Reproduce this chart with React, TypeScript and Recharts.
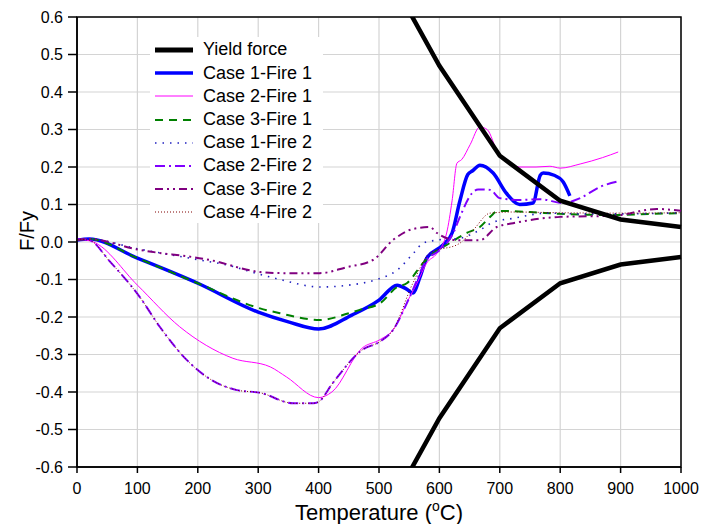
import { LineChart, Line, XAxis, YAxis, CartesianGrid, ReferenceArea } from "recharts";

const xTicks = [0, 100, 200, 300, 400, 500, 600, 700, 800, 900, 1000];
const yTicks = [-0.6, -0.5, -0.4, -0.3, -0.2, -0.1, 0, 0.1, 0.2, 0.3, 0.4, 0.5, 0.6];

// yield force envelope (upper / lower branch)
const yieldTemps = [550, 600, 700, 800, 900, 1000];
const yieldUpper = [0.615, 0.47, 0.23, 0.11, 0.06, 0.04];
const yieldLower = [-0.615, -0.47, -0.23, -0.11, -0.06, -0.04];

const c1f1Temps = [0, 20, 100, 200, 300, 350, 400, 455, 500, 530, 545, 556, 568, 579, 606, 621, 634, 647, 655, 667, 689, 711, 733, 755, 767, 772, 790, 805, 816];
const c1f1Vals = [0.005, 0.008, -0.043, -0.11, -0.187, -0.213, -0.232, -0.195, -0.155, -0.115, -0.125, -0.136, -0.093, -0.043, -0.008, 0.024, 0.11, 0.18, 0.19, 0.205, 0.184, 0.13, 0.1, 0.104, 0.178, 0.184, 0.178, 0.16, 0.123];

const c2f1Temps = [0, 27, 100, 170, 258, 320, 347, 400, 422, 472, 502, 523, 551, 563, 579, 596, 612, 621, 629, 637, 651, 667, 679, 697, 715, 733, 760, 783, 800, 833, 870, 896];
const c2f1Vals = [0.008, 0.0, -0.115, -0.226, -0.31, -0.333, -0.36, -0.415, -0.4, -0.283, -0.26, -0.235, -0.146, -0.11, -0.056, -0.03, 0.024, 0.11, 0.21, 0.22, 0.26, 0.307, 0.3, 0.237, 0.21, 0.2, 0.2, 0.202, 0.197, 0.208, 0.225, 0.24];

const c3f1Temps = [0, 20, 100, 200, 303, 336, 402, 450, 470, 502, 530, 546, 573, 590, 612, 645, 667, 684, 697, 750, 800, 887, 950, 1000];
const c3f1Vals = [0.005, 0.008, -0.043, -0.11, -0.177, -0.19, -0.208, -0.19, -0.18, -0.163, -0.12, -0.11, -0.056, -0.03, -0.008, 0.024, 0.04, 0.067, 0.083, 0.08, 0.075, 0.072, 0.075, 0.077];

const c1f2Temps = [0, 20, 100, 200, 250, 300, 336, 402, 450, 496, 530, 557, 573, 596, 634, 667, 689, 722, 778, 833, 900, 1000];
const c1f2Vals = [0.005, 0.008, -0.018, -0.047, -0.062, -0.085, -0.1, -0.12, -0.115, -0.1, -0.075, -0.03, -0.003, 0.005, 0.01, 0.032, 0.053, 0.063, 0.077, 0.075, 0.075, 0.078];

const c2f2Temps = [0, 20, 55, 104, 137, 182, 215, 265, 303, 358, 391, 400, 424, 472, 502, 523, 551, 579, 601, 623, 634, 654, 664, 684, 700, 733, 767, 805, 833, 866, 899];
const c2f2Vals = [0.008, 0.005, -0.053, -0.147, -0.226, -0.315, -0.36, -0.395, -0.402, -0.43, -0.43, -0.426, -0.375, -0.288, -0.265, -0.235, -0.146, -0.048, -0.021, 0.024, 0.067, 0.13, 0.14, 0.139, 0.117, 0.112, 0.114, 0.104, 0.117, 0.147, 0.163];

const c3f2Temps = [0, 20, 100, 220, 303, 336, 402, 447, 490, 523, 557, 584, 596, 629, 667, 695, 722, 800, 887, 960, 1000];
const c3f2Vals = [0.005, 0.008, -0.02, -0.048, -0.08, -0.083, -0.083, -0.067, -0.048, 0.005, 0.035, 0.04, 0.024, 0.005, 0.005, 0.04, 0.05, 0.067, 0.07, 0.088, 0.083];

const c4f2Temps = [0, 20, 55, 104, 137, 182, 215, 265, 303, 358, 391, 400, 424, 472, 502, 523, 556, 584, 634, 656, 684, 722, 800, 900, 1000];
const c4f2Vals = [0.008, 0.005, -0.053, -0.147, -0.226, -0.315, -0.36, -0.395, -0.402, -0.43, -0.43, -0.426, -0.375, -0.288, -0.265, -0.235, -0.11, -0.03, -0.003, 0.032, 0.077, 0.08, 0.078, 0.077, 0.078];

const toPoints = (temps: number[], vals: number[]) => temps.map((t, i) => ({ t, v: vals[i] }));

const FONT = "Arial, 'Liberation Sans', sans-serif";

const series = [
  { key: "c1f1", name: "Case 1-Fire 1", data: toPoints(c1f1Temps, c1f1Vals), color: "#0000FF", width: 3.5, dash: undefined },
  { key: "c2f1", name: "Case 2-Fire 1", data: toPoints(c2f1Temps, c2f1Vals), color: "#FF00FF", width: 1, dash: undefined },
  { key: "c3f1", name: "Case 3-Fire 1", data: toPoints(c3f1Temps, c3f1Vals), color: "#008000", width: 2, dash: "8 6" },
  { key: "c1f2", name: "Case 1-Fire 2", data: toPoints(c1f2Temps, c1f2Vals), color: "#2020C0", width: 1.6, dash: "1.5 6" },
  { key: "c2f2", name: "Case 2-Fire 2", data: toPoints(c2f2Temps, c2f2Vals), color: "#8000FF", width: 2, dash: "10 4 2 4" },
  { key: "c3f2", name: "Case 3-Fire 2", data: toPoints(c3f2Temps, c3f2Vals), color: "#800080", width: 2, dash: "8 4 2 4 2 4" },
  { key: "c4f2", name: "Case 4-Fire 2", data: toPoints(c4f2Temps, c4f2Vals), color: "#800000", width: 1, dash: "1 2" },
];

const legendItems = [
  { name: "Yield force", color: "#000", width: 5, dash: undefined as string | undefined },
  ...series.map((s) => ({ name: s.name, color: s.color, width: s.width, dash: s.dash })),
];

function ChartLegend() {
  return (
    <div
      style={{
        position: "absolute",
        left: 150,
        top: 37,
        width: 173,
        height: 186,
        background: "#fff",
        paddingTop: 1.4,
        boxSizing: "border-box",
      }}
    >
      {legendItems.map((it) => (
        <div key={it.name} style={{ display: "flex", alignItems: "center", height: 23.2 }}>
          <svg width={48} height={10} style={{ marginLeft: 5, flex: "none" }}>
            <line x1={0} y1={5} x2={38} y2={5} stroke={it.color} strokeWidth={it.width} strokeDasharray={it.dash} />
          </svg>
          <span style={{ fontFamily: FONT, fontSize: 18, color: "#000", whiteSpace: "nowrap" }}>{it.name}</span>
        </div>
      ))}
    </div>
  );
}

export default function App() {
  return (
    <div style={{ position: "absolute", left: 0, top: 0, width: 702, height: 524, background: "#fff" }}>
      <LineChart width={702} height={524} margin={{ top: 17, right: 21, left: 0, bottom: 0 }}>
        <CartesianGrid stroke="#d4d4d4" strokeWidth={1.2} />
        <XAxis
          type="number"
          dataKey="t"
          domain={[0, 1000]}
          ticks={xTicks}
          height={57}
          tickSize={6}
          tickMargin={10}
          stroke="#000"
          strokeWidth={1.5}
          tick={{ fontSize: 16, fill: "#000", fontFamily: FONT }}
          label={{
            content: ({ viewBox }: any) => (
              <text x={viewBox.x + viewBox.width / 2} y={viewBox.y + 53} textAnchor="middle" fontSize={22} fontFamily={FONT} fill="#000">
                Temperature (<tspan fontSize={14} dy={-9}>o</tspan><tspan dy={9}>C)</tspan>
              </text>
            ),
          }}
        />
        <YAxis
          type="number"
          domain={[-0.6, 0.6]}
          ticks={yTicks}
          allowDataOverflow
          width={77}
          tickSize={9}
          tickMargin={5}
          stroke="#000"
          strokeWidth={1.5}
          tickFormatter={(v: number) => v.toFixed(1)}
          tick={{ fontSize: 16, fill: "#000", fontFamily: FONT }}
          label={{
            content: () => (
              <text x={34} y={231} transform="rotate(-90 34 231)" textAnchor="middle" fontSize={20} fontFamily={FONT} fill="#000">
                F/Fy
              </text>
            ),
          }}
        />
        <ReferenceArea x1={0} x2={1000} y1={-0.6} y2={0.6} fill="none" fillOpacity={0} stroke="#000" strokeWidth={1.5} />
        {series.map((s) => (
          <Line
            key={s.key}
            data={s.data}
            dataKey="v"
            name={s.name}
            type="monotone"
            stroke={s.color}
            strokeWidth={s.width}
            strokeDasharray={s.dash}
            dot={false}
            activeDot={false}
            isAnimationActive={false}
          />
        ))}
        <Line data={toPoints(yieldTemps, yieldUpper)} dataKey="v" name="Yield force" type="linear" stroke="#000" strokeWidth={4.5} dot={false} activeDot={false} isAnimationActive={false} />
        <Line data={toPoints(yieldTemps, yieldLower)} dataKey="v" name="Yield force lower" type="linear" stroke="#000" strokeWidth={4.5} dot={false} activeDot={false} isAnimationActive={false} />
      </LineChart>
      <ChartLegend />
    </div>
  );
}
